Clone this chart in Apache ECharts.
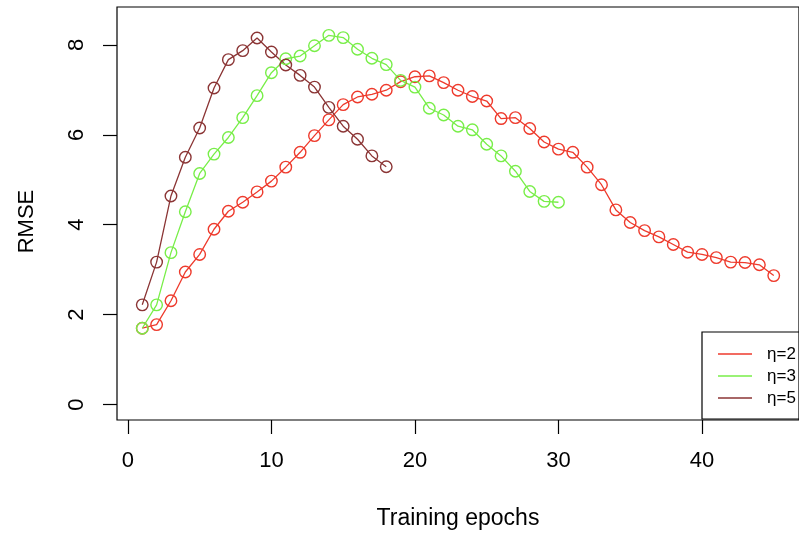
<!DOCTYPE html>
<html>
<head>
<meta charset="utf-8">
<script src="https://cdn.jsdelivr.net/npm/echarts@6/dist/echarts.min.js"></script>
<style>
html,body{margin:0;padding:0;background:#fff;}
#chart{width:799px;height:535px;}
</style>
</head>
<body>
<div id="chart"></div>
<script>
// Data
const seriesNames = ['η=2', 'η=3', 'η=5'];
const eta2 = [1.70, 1.78, 2.31, 2.95, 3.34, 3.90, 4.30, 4.50, 4.73, 4.97,
              5.28, 5.61, 5.98, 6.33, 6.67, 6.84, 6.90, 6.99, 7.18, 7.29,
              7.31, 7.16, 6.99, 6.85, 6.75, 6.36, 6.38, 6.14, 5.84, 5.68,
              5.61, 5.28, 4.89, 4.33, 4.05, 3.87, 3.73, 3.56, 3.39, 3.34,
              3.27, 3.17, 3.16, 3.11, 2.87];
const eta3 = [1.70, 2.22, 3.38, 4.29, 5.14, 5.57, 5.94, 6.38, 6.87, 7.38,
              7.69, 7.75, 7.98, 8.21, 8.16, 7.90, 7.70, 7.56, 7.21, 7.06,
              6.59, 6.44, 6.19, 6.11, 5.79, 5.53, 5.19, 4.74, 4.52, 4.50];
const eta5 = [2.22, 3.17, 4.64, 5.50, 6.15, 7.04, 7.67, 7.87, 8.15, 7.84,
              7.55, 7.32, 7.06, 6.61, 6.19, 5.90, 5.53, 5.29];
const xTicks = [0, 10, 20, 30, 40];
const yTicks = [0, 2, 4, 6, 8];

const colors = ['#ee3a2c', '#78ee48', '#8b3535'];
const FONT = 'Liberation Sans, Arial, Helvetica, sans-serif';

function pairs(vals) { return vals.map((v, i) => [i + 1, v]); }

const chart = echarts.init(document.getElementById('chart'), null, {renderer: 'canvas'});
const mk = (name, vals, color) => ({
  name: name,
  type: 'line',
  data: pairs(vals),
  symbol: 'circle',
  symbolSize: 11.5,
  showSymbol: true,
  animation: false,
  lineStyle: {color: color, width: 1.3},
  itemStyle: {color: 'rgba(0,0,0,0)', borderColor: color, borderWidth: 1.4},
  emphasis: {disabled: true}
});

chart.setOption({
  animation: false,
  backgroundColor: '#ffffff',
  grid: {left: 117, top: 7, width: 692, height: 413, show: true,
         borderColor: '#000', borderWidth: 1.2, backgroundColor: 'transparent'},
  xAxis: {
    type: 'value', min: -0.76, max: 46.76,
    name: 'Training epochs', nameLocation: 'middle', nameGap: 87,
    nameTextStyle: {fontFamily: FONT, fontSize: 23, color: '#000'},
    axisLine: {show: false, onZero: false},
    axisTick: {show: true, length: 14, customValues: xTicks, lineStyle: {color: '#000', width: 1.2}},
    axisLabel: {customValues: xTicks, margin: 30, fontFamily: FONT, fontSize: 22, color: '#000'},
    splitLine: {show: false}
  },
  yAxis: {
    type: 'value', min: -0.34, max: 8.84,
    name: 'RMSE', nameLocation: 'middle', nameGap: 79, nameRotate: 90,
    nameTextStyle: {fontFamily: FONT, fontSize: 22, color: '#000', padding: [0, 16, 0, 0]},
    axisLine: {show: false, onZero: false},
    axisTick: {show: true, length: 14, customValues: yTicks, lineStyle: {color: '#000', width: 1.2}},
    axisLabel: {customValues: yTicks, margin: 29, rotate: 90, fontFamily: FONT, fontSize: 22, color: '#000'},
    splitLine: {show: false}
  },
  legend: {
    data: seriesNames.map((n, i) => ({name: n, itemStyle: {color: colors[i], borderWidth: 0}})),
    orient: 'vertical',
    left: 702, top: 332,
    padding: [11, 12, 10, 16],
    itemGap: 0,
    itemWidth: 34, itemHeight: 1.3,
    icon: 'rect',
    borderColor: '#000', borderWidth: 1.2,
    textStyle: {fontFamily: FONT, fontSize: 17, color: '#000', lineHeight: 22, padding: [0, 0, 0, 10]},
    selectedMode: false
  },
  series: [
    mk(seriesNames[0], eta2, colors[0]),
    mk(seriesNames[1], eta3, colors[1]),
    mk(seriesNames[2], eta5, colors[2])
  ]
});
</script>
</body>
</html>
